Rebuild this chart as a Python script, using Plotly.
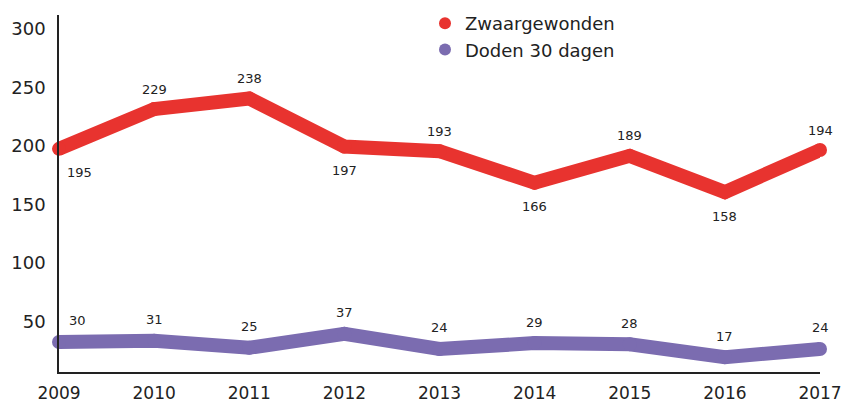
import plotly.graph_objects as go

years = [2009, 2010, 2011, 2012, 2013, 2014, 2015, 2016, 2017]
zwaargewonden = [195, 229, 238, 197, 193, 166, 189, 158, 194]
doden = [30, 31, 25, 37, 24, 29, 28, 17, 24]
zw_label_pos = ["below", "above", "above", "below", "above", "below", "above", "below", "above"]
y_ticks = [50, 100, 150, 200, 250, 300]

RED = "#E8332F"
PURPLE = "#7B6CB0"
FONT = "DejaVu Sans"
TXT = "#222222"

fig = go.Figure()
for vals, col in [(zwaargewonden, RED), (doden, PURPLE)]:
    fig.add_trace(go.Scatter(x=years, y=vals, mode="lines+markers",
                             line=dict(color=col, width=14),
                             marker=dict(color=col, size=14),
                             showlegend=False, hoverinfo="skip", cliponaxis=False))
for name, col in [("Zwaargewonden", RED), ("Doden 30 dagen", PURPLE)]:
    fig.add_trace(go.Scatter(x=[None], y=[None], mode="markers", name=name,
                             marker=dict(color=col, size=12)))

for i, (yr, v) in enumerate(zip(years, zwaargewonden)):
    xs = 20 if i == 0 else 0
    ys = -24 if zw_label_pos[i] == "below" else 20
    fig.add_annotation(x=yr, y=v, text=str(v), showarrow=False, xshift=xs, yshift=ys,
                       font=dict(family=FONT, size=13, color=TXT))
for i, (yr, v) in enumerate(zip(years, doden)):
    xs = 18 if i == 0 else 0
    fig.add_annotation(x=yr, y=v, text=str(v), showarrow=False, xshift=xs, yshift=21,
                       font=dict(family=FONT, size=13, color=TXT))

fig.update_layout(
    width=841, height=403,
    margin=dict(l=59, r=21, t=15, b=31, autoexpand=False),
    paper_bgcolor="white", plot_bgcolor="white",
    font=dict(family=FONT, color=TXT),
    legend=dict(x=425 / 841, y=1 - 5 / 403, xref="container", yref="container",
                xanchor="left", yanchor="top",
                font=dict(family=FONT, size=18, color=TXT), bgcolor="rgba(0,0,0,0)",
                tracegroupgap=0, itemwidth=30),
)
fig.update_xaxes(range=[2009, 2017], tickvals=years, showgrid=False, zeroline=False,
                 showline=True, linecolor=TXT, linewidth=1.5, ticks="",
                 automargin=False, ticklabeloverflow="allow", ticklabelstandoff=5,
                 tickfont=dict(family=FONT, size=17, color=TXT))
fig.update_yaxes(range=[4.3, 309.4], tickvals=y_ticks, showgrid=False, zeroline=False,
                 showline=True, linecolor=TXT, linewidth=1.5, ticks="",
                 automargin=False, ticklabeloverflow="allow",
                 ticklabelstandoff=8, ticklabelshift=3,
                 tickfont=dict(family=FONT, size=18, color=TXT))

fig.write_html("out.html", config={"displayModeBar": False},
               post_script="document.body.style.margin='0';")
